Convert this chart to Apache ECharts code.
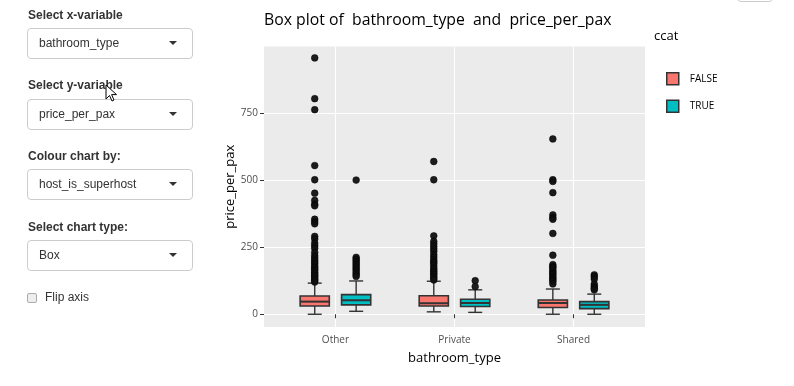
<!DOCTYPE html>
<html>
<head>
<meta charset="utf-8">
<script src="https://cdn.jsdelivr.net/npm/echarts@6/dist/echarts.min.js"></script>
<style>
html,body{margin:0;padding:0;background:#fff;overflow:hidden;width:794px;height:386px;}
#chart{position:absolute;left:0;top:0;width:794px;height:386px;}
.lbl{position:absolute;left:28px;font-family:"Liberation Sans",Arial,sans-serif;font-weight:bold;font-size:12px;line-height:14px;color:#333;white-space:nowrap;}
.sel{position:absolute;left:27px;width:166px;height:31px;border:1px solid #ccc;border-radius:4px;box-sizing:border-box;background:#fff;font-family:"Liberation Sans",Arial,sans-serif;font-size:12px;color:#333;}
.sel span{position:absolute;left:11px;top:7px;line-height:14px;white-space:nowrap;}
.sel i{position:absolute;left:141px;top:12px;width:0;height:0;border-left:4px solid transparent;border-right:4px solid transparent;border-top:4px solid #333;}
.chk{position:absolute;left:27px;top:293px;width:10px;height:10px;border:1px solid #aaa;border-radius:2px;background:#eee;box-sizing:border-box;}
.chklbl{position:absolute;left:45px;top:290px;font-family:"Liberation Sans",Arial,sans-serif;font-size:12px;line-height:14px;color:#333;}
.btn{position:absolute;left:737px;top:-28px;width:36px;height:30px;border:1px solid #ccc;border-radius:4px;box-sizing:border-box;background:#fff;}
</style>
</head>
<body>
<div id="chart"></div>
<div class="lbl" style="top:8px">Select x-variable</div>
<div class="sel" style="top:28px"><span>bathroom_type</span><i></i></div>
<div class="lbl" style="top:78px">Select y-variable</div>
<div class="sel" style="top:99px"><span>price_per_pax</span><i></i></div>
<div class="lbl" style="top:149px">Colour chart by:</div>
<div class="sel" style="top:169px"><span>host_is_superhost</span><i></i></div>
<div class="lbl" style="top:220px">Select chart type:</div>
<div class="sel" style="top:240px"><span>Box</span><i></i></div>
<div class="chk"></div>
<div class="chklbl">Flip axis</div>
<div class="btn"></div>
<svg style="position:absolute;left:104px;top:84px" width="16" height="20" viewBox="0 0 16 20">
<path d="M2 1 L2 15 L5.5 11.5 L8 17 L10 16 L7.6 10.6 L12.5 10.6 Z" fill="#fff" stroke="#000" stroke-width="1"/>
</svg>
<script>
// ---- data ----
const categories = ['Other', 'Private', 'Shared'];
const groupNames = ['FALSE', 'TRUE'];
const yTickValues = [0, 250, 500, 750];
// [min whisker, Q1, median, Q3, max whisker]
const falseBox = [[0, 31, 47, 68, 116], [9, 31, 41, 69, 123], [0, 25, 42, 53, 94]];
const trueBox = [[11, 35, 52, 73, 124], [7, 29, 42, 56, 91], [0, 21, 35, 47, 75]];
const falseOutliers = [
  [955, 803, 762, 554, 501, 451, 424, 410, 404, 354, 345, 337, 290, 280, 265, 255, 246, 230, 218, 210, 202, 195, 188, 180, 174, 168, 162, 156, 150, 145, 140, 135, 130, 125, 120],
  [569, 501, 292, 271, 262, 252, 243, 234, 222, 213, 203, 196, 190, 181, 172, 165, 159, 153, 147, 140, 134, 128],
  [653, 501, 495, 453, 370, 360, 354, 301, 220, 185, 178, 174, 166, 159, 153, 147, 140, 134, 128, 122, 113]
];
const trueOutliers = [
  [500, 212, 205, 198, 191, 184, 177, 170, 163, 155, 148, 141],
  [125, 103],
  [147, 140, 131, 112, 103, 97, 91]
];

// ---- layout / style ----
const OFFSET = 0.174;
const BOX_W = 0.245;
const COLORS = ['#F8766D', '#00BFC4'];
const FONT = 'Open Sans';

function boxSeries(name, stats, offset, color) {
  return {
    name: name,
    type: 'custom',
    coordinateSystem: 'cartesian2d',
    itemStyle: { color: color, borderColor: '#333' },
    encode: { x: 0, y: [1, 2, 3, 4, 5] },
    data: stats.map(function (s, i) { return [i + 1 + offset].concat(s); }),
    z: 3,
    renderItem: function (params, api) {
      const x = api.value(0);
      const pMin = api.coord([x, api.value(1)]);
      const pQ1 = api.coord([x, api.value(2)]);
      const pMed = api.coord([x, api.value(3)]);
      const pQ3 = api.coord([x, api.value(4)]);
      const pMax = api.coord([x, api.value(5)]);
      const w = api.size([BOX_W, 0])[0];
      const cw = w * 0.48;
      const cx = pMed[0];
      const ls = { stroke: '#333', lineWidth: 1.4 };
      return {
        type: 'group',
        children: [
          { type: 'line', shape: { x1: cx, y1: pQ3[1], x2: cx, y2: pMax[1] }, style: ls },
          { type: 'line', shape: { x1: cx, y1: pQ1[1], x2: cx, y2: pMin[1] }, style: ls },
          { type: 'line', shape: { x1: cx - cw / 2, y1: pMax[1], x2: cx + cw / 2, y2: pMax[1] }, style: ls },
          { type: 'line', shape: { x1: cx - cw / 2, y1: pMin[1], x2: cx + cw / 2, y2: pMin[1] }, style: ls },
          { type: 'rect', shape: { x: cx - w / 2, y: pQ3[1], width: w, height: pQ1[1] - pQ3[1] }, style: { fill: color, stroke: '#333', lineWidth: 1.6 } },
          { type: 'line', shape: { x1: cx - w / 2, y1: pMed[1], x2: cx + w / 2, y2: pMed[1] }, style: { stroke: '#333', lineWidth: 2 } }
        ]
      };
    }
  };
}

function outlierSeries(name, outs, offset) {
  const pts = [];
  outs.forEach(function (arr, i) { arr.forEach(function (v) { pts.push([i + 1 + offset, v]); }); });
  return {
    name: name,
    type: 'scatter',
    data: pts,
    symbolSize: 6.8,
    itemStyle: { color: '#111', opacity: 0.95, borderColor: '#000', borderWidth: 0.5 },
    z: 4,
    silent: true
  };
}

const chart = echarts.init(document.getElementById('chart'), null, { renderer: 'canvas' });
chart.setOption({
  animation: false,
  backgroundColor: 'transparent',
  title: [
    { text: 'Box plot of  bathroom_type  and  price_per_pax', left: 264, top: 12, padding: 0,
      textStyle: { fontSize: 15.8, fontWeight: 'normal', color: '#000', fontFamily: FONT } },
    { text: 'ccat', left: 654, top: 30, padding: 0,
      textStyle: { fontSize: 13, fontWeight: 'normal', color: '#000', fontFamily: FONT } }
  ],
  legend: {
    data: groupNames,
    orient: 'vertical',
    left: 666,
    top: 72,
    padding: 0,
    itemWidth: 12,
    itemHeight: 12,
    itemGap: 14,
    icon: 'rect',
    selectedMode: false,
    itemStyle: { borderColor: '#333', borderWidth: 1.5 },
    textStyle: { fontSize: 10, color: '#000', fontFamily: FONT, padding: [0, 0, 0, 6] }
  },
  grid: {
    left: 264, top: 46.5, width: 381, height: 280.5,
    show: true, backgroundColor: '#EBEBEB', borderWidth: 0,
    containLabel: false
  },
  xAxis: {
    type: 'value',
    min: 0.4,
    max: 3.6,
    axisLine: { show: false },
    axisTick: { show: true, customValues: [1, 2, 3], length: 4, lineStyle: { color: '#333', width: 1 } },
    axisLabel: { customValues: [1, 2, 3], formatter: function (v) { return categories[Math.round(v) - 1] || ''; },
      color: '#4D4D4D', fontSize: 10, fontFamily: FONT, margin: 8 },
    splitLine: { show: true, lineStyle: { color: '#fff', width: 1.1 } },
    name: 'bathroom_type',
    nameLocation: 'middle',
    nameGap: 25,
    nameTextStyle: { fontSize: 13, color: '#000', fontFamily: FONT }
  },
  yAxis: {
    type: 'value',
    min: -47.5,
    max: 997.5,
    axisLine: { show: false },
    axisTick: { show: true, customValues: yTickValues, length: 4, lineStyle: { color: '#333', width: 1 } },
    axisLabel: { customValues: yTickValues, color: '#4D4D4D', fontSize: 10, fontFamily: FONT, margin: 6 },
    splitLine: { show: true, lineStyle: { color: '#fff', width: 1.2 } },
    name: 'price_per_pax',
    nameLocation: 'middle',
    nameGap: 27,
    nameTextStyle: { fontSize: 13, color: '#000', fontFamily: FONT }
  },
  series: [
    boxSeries('FALSE', falseBox, -OFFSET, COLORS[0]),
    boxSeries('TRUE', trueBox, OFFSET, COLORS[1]),
    outlierSeries('outliers FALSE', falseOutliers, -OFFSET),
    outlierSeries('outliers TRUE', trueOutliers, OFFSET)
  ]
});
</script>
</body>
</html>
